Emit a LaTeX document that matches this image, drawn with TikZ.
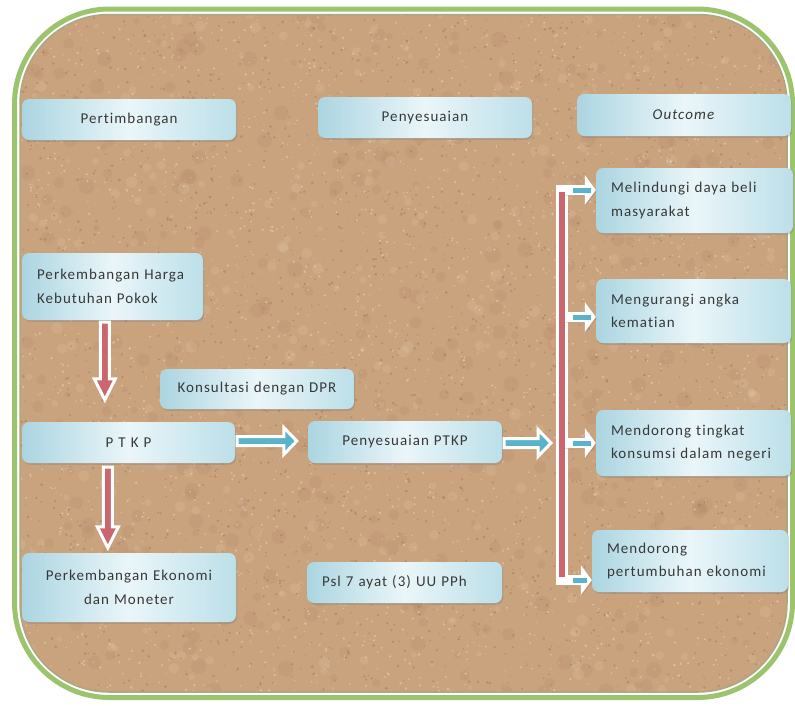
\documentclass[tikz,border=0pt]{standalone}
\usepackage{fontspec}
\setmainfont{Carlito}[LetterSpace=7, Ligatures=NoCommon]
\usetikzlibrary{calc,shadows}

\definecolor{framegreen}{HTML}{9CC46E}
\definecolor{frameinner}{HTML}{A9A883}
\definecolor{corkbase}{HTML}{C9A27E}
\definecolor{corkdark}{HTML}{8A6043}
\definecolor{corklight}{HTML}{EDDAC0}
\definecolor{boxedge}{HTML}{ABD5E1}
\definecolor{boxmid}{HTML}{EAF6F9}
\definecolor{boxright}{HTML}{BCDFE9}
\definecolor{inkgray}{HTML}{383838}
\definecolor{arrowred}{HTML}{C9666E}
\definecolor{arrowblue}{HTML}{5BB3CB}

\tikzset{
  card/.style={rounded corners=7pt, left color=boxedge, right color=boxright,
    middle color=boxmid, draw=none,
    drop shadow={opacity=0.35, shadow xshift=1.2pt, shadow yshift=-1.8pt},
    text=inkgray, font=\fontsize{15}{23.5}\selectfont, inner sep=0pt},
  cardc/.style={card, align=center},
  cardl/.style={card, align=left, inner xsep=15pt},
  blockrim/.style={draw=white, line width=3pt, line join=miter,
    drop shadow={opacity=0.25, shadow xshift=1pt, shadow yshift=-1pt}},
}

% downward block arrow: start, tip, fill colour
\newcommand\dnblock[3]{%
  \filldraw[blockrim, fill=#3] let \p1=(#1), \p2=(#2) in
    (\x1-4.5pt,\y1) -- (\x1+4.5pt,\y1) -- (\x1+4.5pt,\y2+21pt) -- (\x1+10.5pt,\y2+21pt)
    -- (\x1,\y2) -- (\x1-10.5pt,\y2+21pt) -- (\x1-4.5pt,\y2+21pt) -- cycle;}
% rightward block arrow: start, tip, fill colour
\newcommand\rtblock[3]{%
  \filldraw[blockrim, fill=#3] let \p1=(#1), \p2=(#2) in
    (\x1,\y1+4.5pt) -- (\x2-13pt,\y1+4.5pt) -- (\x2-13pt,\y1+13.5pt) -- (\x2,\y1)
    -- (\x2-13pt,\y1-13.5pt) -- (\x2-13pt,\y1-4.5pt) -- (\x1,\y1-4.5pt) -- cycle;}
% small white branch arrow with a blue core: start, tip
\newcommand\outarrow[2]{%
  \fill[white, drop shadow={opacity=0.25, shadow xshift=1pt, shadow yshift=-1pt}]
    let \p1=(#1), \p2=(#2) in
    (\x1,\y1+5pt) -- (\x2-11pt,\y1+5pt) -- (\x2-11pt,\y1+15pt) -- (\x2,\y1)
    -- (\x2-11pt,\y1-15pt) -- (\x2-11pt,\y1-5pt) -- (\x1,\y1-5pt) -- cycle;
  \fill[arrowblue] let \p1=(#1), \p2=(#2) in
    (\x1+11pt,\y1+2.5pt) rectangle (\x2-5pt,\y1-2.5pt);}

\begin{document}
\begin{tikzpicture}[x=1pt, y=-1pt]
\useasboundingbox (0,0) rectangle (795,705);
\fill[white] (0,0) rectangle (795,705);

% board frame
\draw[framegreen, line width=5pt, rounded corners=95pt] (14.5,9) rectangle (792.5,697.5);
\begin{scope}
  \clip[rounded corners=89pt] (20,14.5) rectangle (787,692);
  \fill[corkbase] (20,14.5) rectangle (787,692);
  \pgfmathsetseed{4711}
  % cork grain: soft blotches, then fine dark and light specks
  \foreach \k in {1,...,400}
    \fill[corkdark, opacity=0.08] (20+767*rnd, 14+678*rnd) circle[radius=3+5*rnd];
  \foreach \k in {1,...,400}
    \fill[corklight, opacity=0.15] (20+767*rnd, 14+678*rnd) circle[radius=2+4*rnd];
  \foreach \k in {1,...,2500}
    \fill[corkdark, opacity=0.33] (20+767*rnd, 14+678*rnd) circle[radius=0.5+1.0*rnd];
  \foreach \k in {1,...,2500}
    \fill[corklight, opacity=0.5] (20+767*rnd, 14+678*rnd) circle[radius=0.5+0.9*rnd];
\end{scope}
\draw[frameinner, line width=1.5pt, rounded corners=89pt] (20,14.5) rectangle (787,692);

% column headings
\node[cardc, minimum width=214pt, minimum height=41pt, text width=200pt] (pert) at (129,119.5) {Pertimbangan};
\node[cardc, minimum width=214pt, minimum height=41pt, text width=200pt] (peny) at (425,117.5) {Penyesuaian};
\node[cardc, minimum width=214pt, minimum height=42pt, text width=200pt] (outc) at (684,115) {\textit{Outcome}};

% considerations and adjustment
\node[cardl, minimum width=181pt, minimum height=67pt, text width=151pt] (harga) at (112.5,286.5) {Perkembangan Harga\\Kebutuhan Pokok};
\node[cardc, minimum width=194pt, minimum height=40pt, text width=185pt] (kons) at (257,389) {Konsultasi dengan DPR};
\node[cardc, minimum width=213pt, minimum height=41pt, text width=200pt] (ptkp) at (128.5,442.5) {P T K P};
\node[cardc, minimum width=194pt, minimum height=42pt, text width=185pt] (pptkp) at (405,442) {Penyesuaian PTKP};
\node[cardc, minimum width=214pt, minimum height=69pt, text width=200pt] (ekon) at (129,587.5) {Perkembangan Ekonomi\\dan Moneter};
\node[cardl, minimum width=195pt, minimum height=41pt, text width=165pt] (psl) at (404.5,582.5) {Psl 7 ayat (3) UU PPh};

% outcomes
\node[cardl, minimum width=195pt, minimum height=65pt, text width=167pt] (o1) at (694.5,200.5) {Melindungi daya beli\\masyarakat};
\node[cardl, minimum width=193pt, minimum height=64pt, text width=165pt] (o2) at (693.5,311) {Mengurangi angka\\kematian};
\node[cardl, minimum width=193pt, minimum height=66pt, text width=165pt] (o3) at (693.5,443) {Mendorong tingkat\\konsumsi dalam negeri};
\node[cardl, minimum width=194pt, minimum height=62pt, text width=166pt] (o4) at (690,561) {Mendorong\\pertumbuhan ekonomi};

% connector geometry
\coordinate (bartop) at (562,190);
\coordinate (barbot) at (562,580);
\coordinate (d1s) at ($(harga.south west)+(83,2)$);
\coordinate (d1e) at ($(d1s |- ptkp.north)+(0,-22)$);
\coordinate (d2s) at ($(ptkp.south west)+(86,4)$);
\coordinate (d2e) at ($(d2s |- ekon.north)+(0,-5)$);
\coordinate (r1s) at ($(ptkp.east)+(2,-1.5)$);
\coordinate (r1e) at ($(r1s -| pptkp.west)+(-11,0)$);
\coordinate (r2s) at ($(pptkp.east)+(2,1)$);
\coordinate (r2e) at ($(r2s -| bartop)+(-11,0)$);
\coordinate (t1) at (o1.west |- bartop);
\coordinate (t2) at ($(o2.west)+(0,6)$);
\coordinate (t3) at (o3.west);
\coordinate (t4) at (o4.west |- barbot);

% flow arrows
\dnblock{d1s}{d1e}{arrowred}
\dnblock{d2s}{d2e}{arrowred}
\rtblock{r1s}{r1e}{arrowblue}
\rtblock{r2s}{r2e}{arrowblue}

% distribution bar with branches
\draw[white, line width=12pt] ($(bartop)+(0,-5)$) -- ($(barbot)+(0,5)$);
\outarrow{t1 -| bartop}{t1}
\outarrow{t2 -| bartop}{t2}
\outarrow{t3 -| bartop}{t3}
\outarrow{t4 -| bartop}{t4}
\draw[arrowred, line width=6.5pt] ($(bartop)+(0,2)$) -- ($(barbot)+(0,-3)$);
\end{tikzpicture}
\end{document}
